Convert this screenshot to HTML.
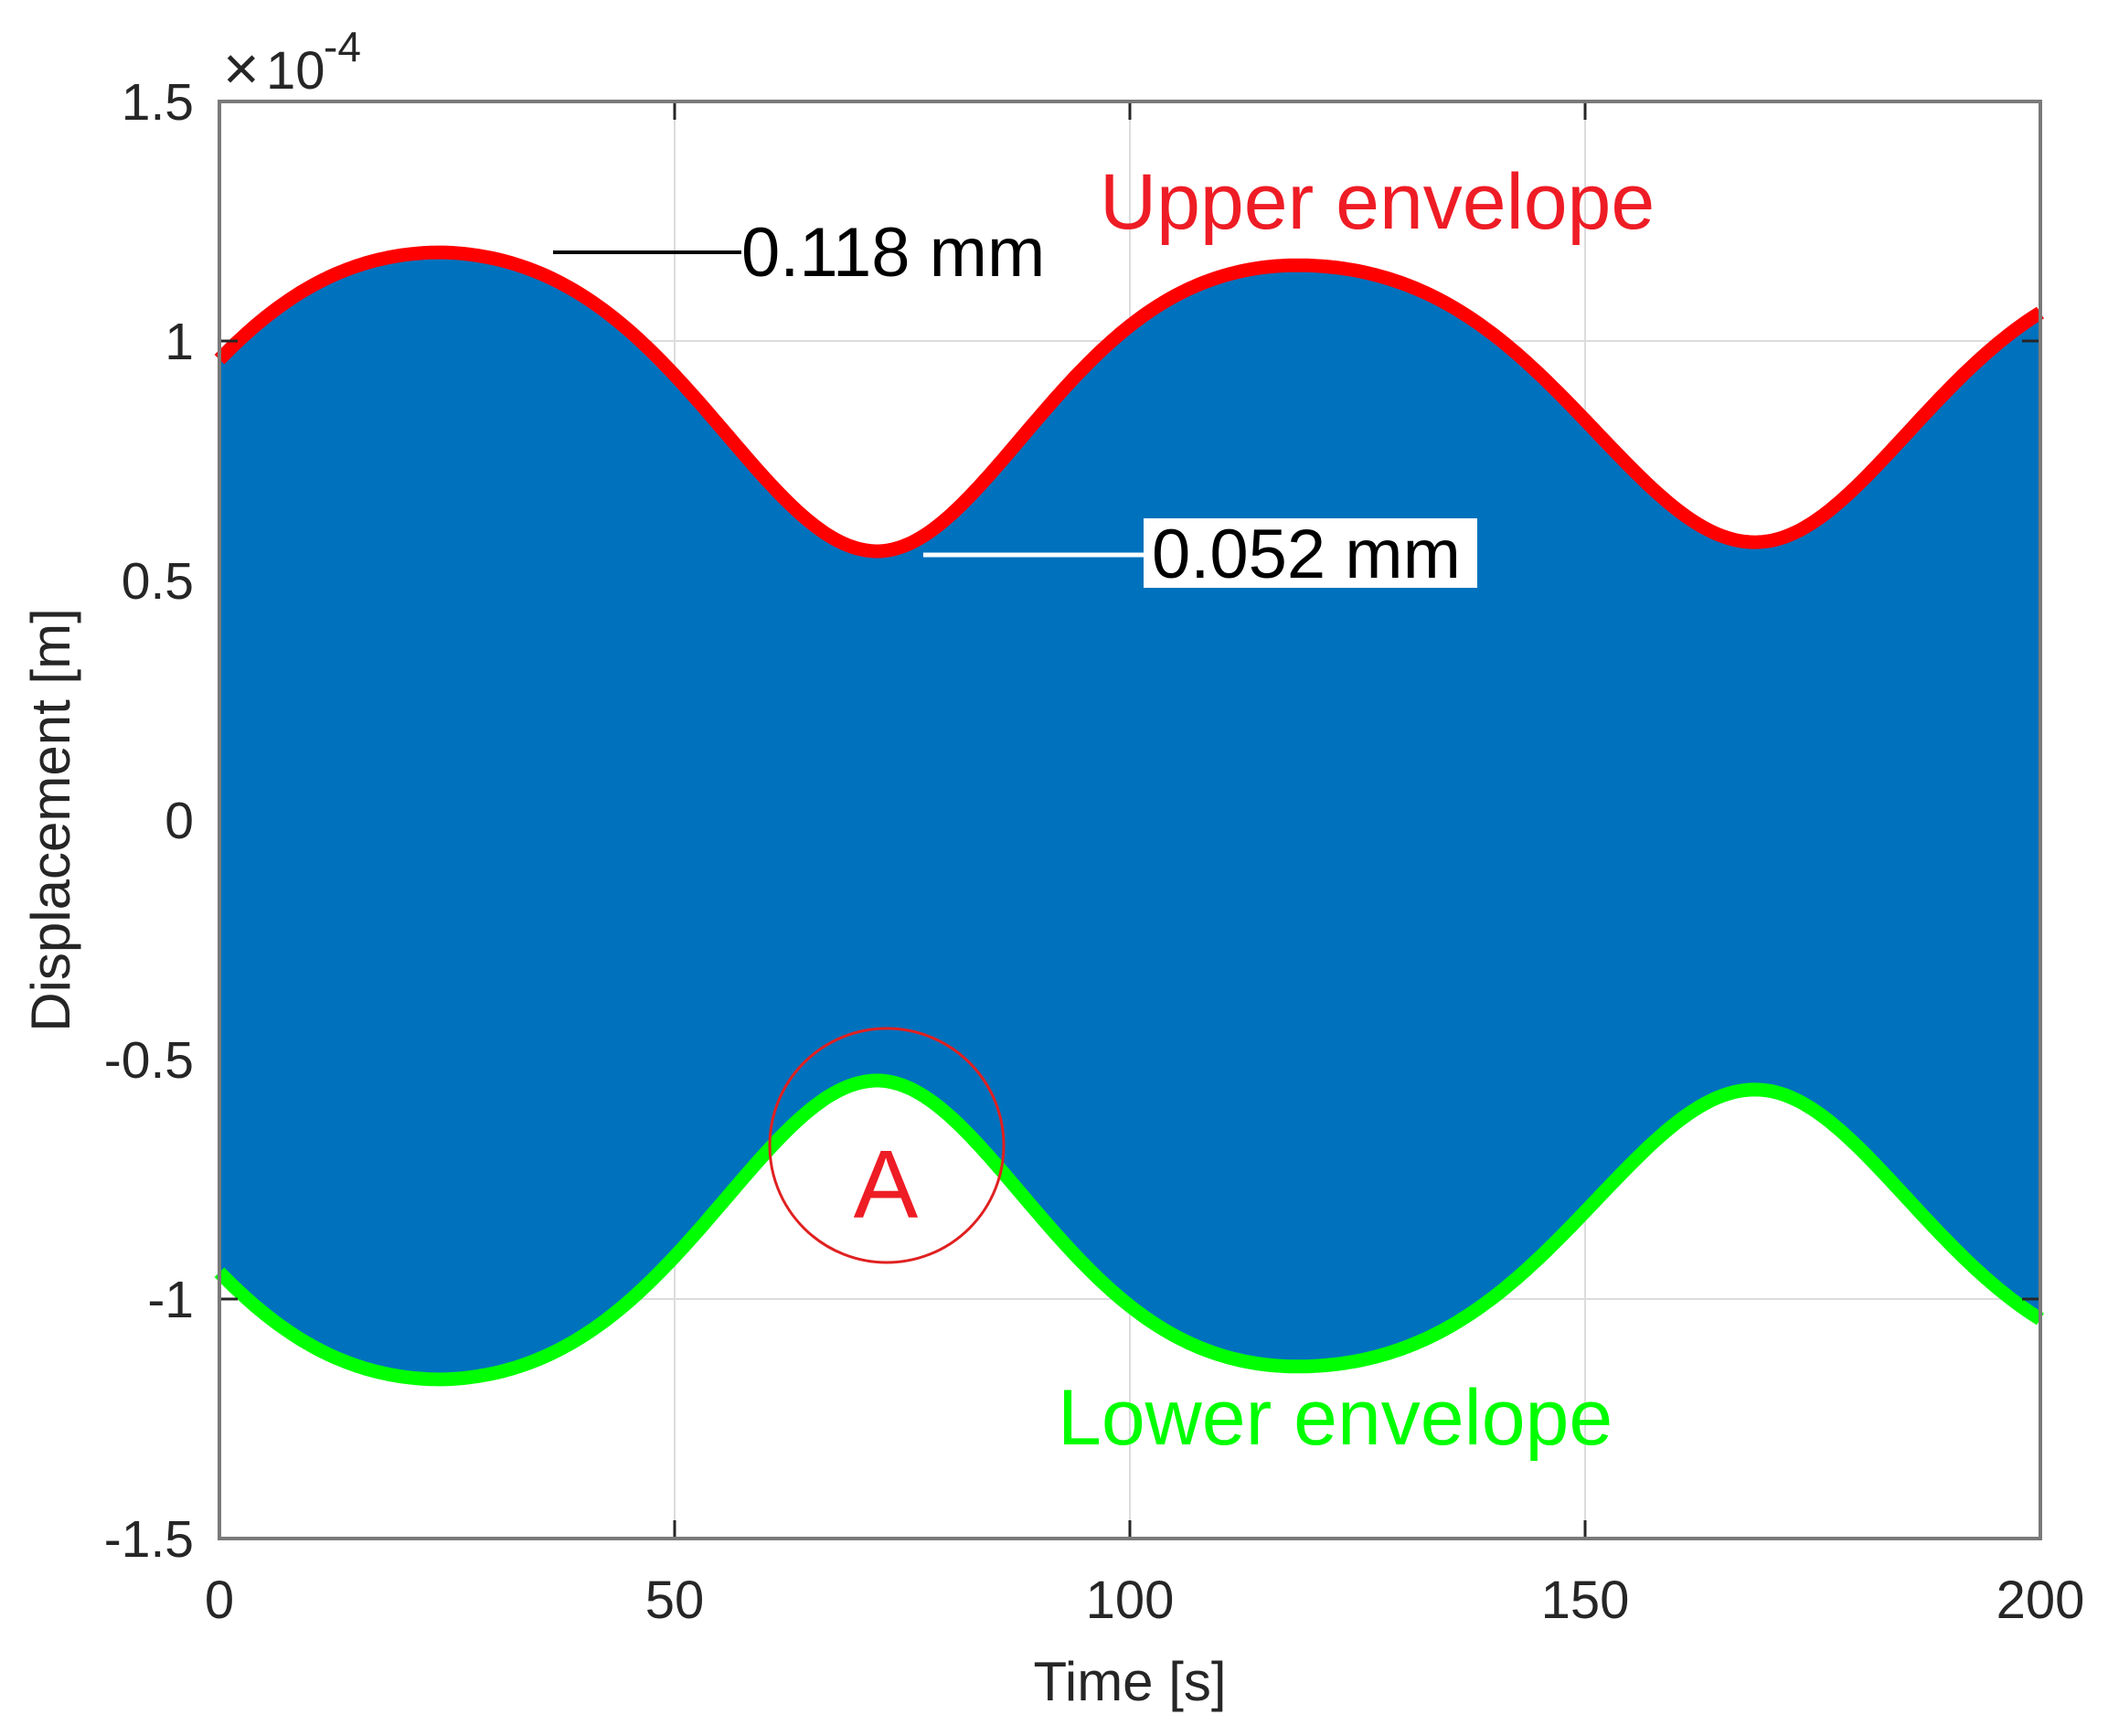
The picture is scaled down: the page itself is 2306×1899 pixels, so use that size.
<!DOCTYPE html>
<html><head><meta charset="utf-8"><style>
html,body{margin:0;padding:0;background:#fff;}
svg{display:block;}
text{font-family:"Liberation Sans",Arial,sans-serif;}
</style></head><body>
<svg id="s" width="2306" height="1899" viewBox="0 0 2306 1899" xmlns="http://www.w3.org/2000/svg">
<rect width="2306" height="1899" fill="#fff"/>
<g stroke="#dcdcdc" stroke-width="2">
<line x1="738" y1="111" x2="738" y2="1683"/><line x1="1236" y1="111" x2="1236" y2="1683"/><line x1="1734" y1="111" x2="1734" y2="1683"/>
<line x1="240" y1="373" x2="2232" y2="373"/><line x1="240" y1="635" x2="2232" y2="635"/><line x1="240" y1="897" x2="2232" y2="897"/><line x1="240" y1="1159" x2="2232" y2="1159"/><line x1="240" y1="1421" x2="2232" y2="1421"/>
</g>
<path id="fill" fill="#0072BD" d=""/>
<path id="up" fill="none" stroke="#ff0000" stroke-width="15" stroke-linejoin="round" d=""/>
<path id="lo" fill="none" stroke="#00ff00" stroke-width="15" stroke-linejoin="round" d=""/>
<g stroke="#262626" stroke-width="3">
<line x1="240" y1="373" x2="260" y2="373"/><line x1="240" y1="1421" x2="260" y2="1421"/>
<line x1="2232" y1="373" x2="2212" y2="373"/><line x1="2232" y1="1421" x2="2212" y2="1421"/>
<line x1="738" y1="1683" x2="738" y2="1663"/><line x1="1236" y1="1683" x2="1236" y2="1663"/><line x1="1734" y1="1683" x2="1734" y2="1663"/>
<line x1="738" y1="111" x2="738" y2="131"/><line x1="1236" y1="111" x2="1236" y2="131"/><line x1="1734" y1="111" x2="1734" y2="131"/>
</g>
<rect x="240" y="111" width="1992" height="1572" fill="none" stroke="#7a7a7a" stroke-width="4"/>
<g fill="#262626" font-size="57" text-anchor="end">
<text x="212" y="131">1.5</text><text x="212" y="393">1</text><text x="212" y="655">0.5</text><text x="212" y="917">0</text><text x="212" y="1179">-0.5</text><text x="212" y="1441">-1</text><text x="212" y="1703">-1.5</text>
</g>
<g fill="#262626" font-size="58" text-anchor="middle">
<text x="240" y="1770">0</text><text x="738" y="1770">50</text><text x="1236" y="1770">100</text><text x="1734" y="1770">150</text><text x="2232" y="1770">200</text>
<text x="1236" y="1860" font-size="60">Time [s]</text>
<text transform="translate(76,897) rotate(-90)" font-size="60">Displacement [m]</text>
</g>
<text x="244" y="98" font-size="68" fill="#262626">×</text>
<text x="291" y="97" font-size="58" fill="#262626">10</text>
<text x="354" y="67" font-size="46" fill="#262626">-4</text>
<line x1="605" y1="276" x2="811" y2="276" stroke="#000" stroke-width="4"/>
<text x="811" y="302" font-size="76" fill="#000">0.118 mm</text>
<text x="1203" y="250" font-size="86" fill="#ee1c25">Upper envelope</text>
<line x1="1010" y1="607" x2="1251" y2="607" stroke="#fff" stroke-width="5"/>
<rect x="1251" y="567" width="365" height="76" fill="#fff"/>
<text x="1260" y="632" font-size="76" fill="#000">0.052 mm</text>
<circle cx="970" cy="1253" r="128" fill="none" stroke="#e02020" stroke-width="3"/>
<text x="969" y="1332" font-size="106" fill="#ee1c25" text-anchor="middle">A</text>
<text x="1157" y="1580" font-size="86" fill="#00ff00">Lower envelope</text>
</svg>
<script>
var K=[[-23.7,-Math.PI,1.185,0.561],[24.3,0,1.185,0.561],[72.3,Math.PI,1.17,0.561],[118.8,2*Math.PI,1.158,0.575],[168.7,3*Math.PI,1.15,0.58],[216.7,4*Math.PI,1.15,0.58]];
function interp(t,idx){for(var i=0;i<K.length-1;i++){if(t<=K[i+1][0]){var f=(t-K[i][0])/(K[i+1][0]-K[i][0]);return K[i][idx]+f*(K[i+1][idx]-K[i][idx]);}}return K[K.length-1][idx];}
function A(t){var ph=interp(t,1),s=interp(t,2),d=interp(t,3);var a=(s+d)/2,b=(s-d)/2;var v=Math.sqrt(a*a+b*b+2*a*b*Math.cos(ph));var sn=Math.sin(ph);return v+0.04*sn*sn;}
var U=[],L=[];
for(var t=0;t<=200.001;t+=0.5){var x=240+t*9.96;var y=897-524*A(t);U.push([x,y]);L.push([x,1785-y]);}
function pl(p){return p.map(function(q,i){return (i?"L":"M")+q[0].toFixed(1)+","+q[1].toFixed(1);}).join(" ");}
var du=pl(U),dl=pl(L);
document.getElementById("up").setAttribute("d",du);
document.getElementById("lo").setAttribute("d",dl);
document.getElementById("fill").setAttribute("d",du+" "+pl(L.slice().reverse()).replace(/^M/,"L")+" Z");
</script>
</body></html>
